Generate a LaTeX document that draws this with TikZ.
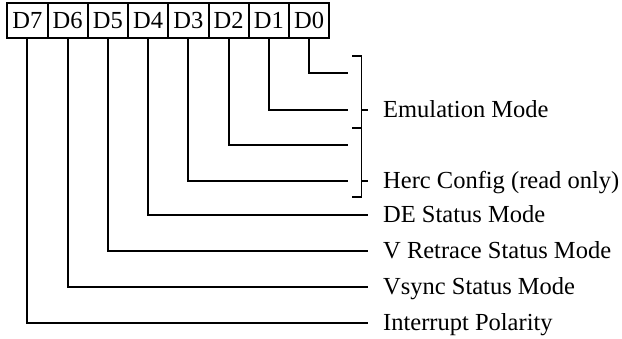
\documentclass[tikz,border=0pt]{standalone}
\usepackage{fontspec}
\setmainfont{Liberation Serif}
\begin{document}
\begin{tikzpicture}[x=1pt,y=-1pt,
  wire/.style={line width=1.9pt},
  bitbox/.style={draw,line width=1.9pt,minimum width=40.25pt,minimum height=35pt,inner sep=0pt,font=\fontsize{24.5}{28}\selectfont},
  lbl/.style={anchor=base west,inner sep=0pt,font=\fontsize{24.5}{28}\selectfont}]
\useasboundingbox (0,0) rectangle (622,339);
% bit boxes
\foreach \k/\n in {0/7,1/6,2/5,3/4,4/3,5/2,6/1,7/0}{
  \node[bitbox] (d\n) at ({7.3+40.25*(\k+0.5)},20.5) {D\n};
}
% end coordinates
\coordinate (e0) at (348,73.3);
\coordinate (e1) at (348,110);
\coordinate (e2) at (348,145);
\coordinate (e3) at (348,181);
\coordinate (e4) at (368,215);
\coordinate (e5) at (368,251);
\coordinate (e6) at (368,287);
\coordinate (e7) at (368,323);
\foreach \n in {0,...,7}{
  \draw[wire] (d\n.south) |- (e\n);
}
% bracket
\coordinate (bt) at (361.5,56);
\coordinate (bm) at (361.5,128);
\coordinate (bb) at (361.5,197);
\coordinate (t1) at (368,110);
\coordinate (t2) at (368,181);
\draw[wire] (352,56) -- (bt) -- (bb) -- (352,197);
\draw[wire] (352,128) -- (bm);
\draw[wire] (t1 -| bt) -- (t1);
\draw[wire] (t2 -| bt) -- (t2);
% labels
\node[lbl] (l1) at (383,118) {Emulation Mode};
\node[lbl] (l3) at (383,189) {Herc Config (read only)};
\node[lbl] (l4) at (383,223) {DE Status Mode};
\node[lbl] (l5) at (383,259) {V Retrace Status Mode};
\node[lbl] (l6) at (383,295) {Vsync Status Mode};
\node[lbl] (l7) at (383,331) {Interrupt Polarity};
\end{tikzpicture}
\end{document}
